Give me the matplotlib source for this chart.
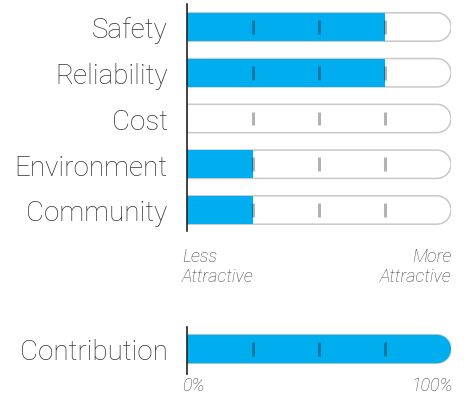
import numpy as np
import matplotlib
matplotlib.use("Agg")
import matplotlib.pyplot as plt
from matplotlib.path import Path
from matplotlib.patches import PathPatch

# Attribute scores (percent of the way from "Less" to "More Attractive")
categories = ["Safety", "Reliability", "Cost", "Environment", "Community"]
scores = [75, 75, 0, 25, 25]

# Overall contribution bar
contribution_label = "Contribution"
contribution_value = 100

grid_marks = [25, 50, 75]
scale_low = "Less\nAttractive"
scale_high = "More\nAttractive"
pct_low = "0%"
pct_high = "100%"

BLUE = "#00AEEF"
TRACK_EDGE = "#c8c8c8"
LABEL_COLOR = "#333333"
NOTE_COLOR = "#444444"
FONT = ["Roboto", "Liberation Sans", "DejaVu Sans"]

W, H = 466, 402
fig = plt.figure(figsize=(W / 100, H / 100), dpi=100)

ROW_PX = 45.75      # vertical pixels per row
BAR_H = 0.62        # bar height in row units
X0, X1 = 187, 451   # horizontal pixel span of the 0..100 scale


def pill(ax, y, end, h, round_end, px_per_x):
    """Bar from 0 to `end`, square on the left; optionally a semicircular right cap."""
    ry = h / 2
    rx = ry * ROW_PX / px_per_x
    if not round_end or end <= 0:
        verts = [(0, y - ry), (end, y - ry), (end, y + ry), (0, y + ry), (0, y - ry)]
    else:
        cx = end - rx
        t = np.linspace(-np.pi / 2, np.pi / 2, 40)
        arc = [(cx + rx * np.cos(a), y + ry * np.sin(a)) for a in t]
        verts = [(0, y - ry)] + arc + [(0, y + ry), (0, y - ry)]
    return Path(verts, closed=True)


def draw_rows(ax, values, rows):
    px_per_x = (X1 - X0) / 100
    for v, y in zip(values, rows):
        track = pill(ax, y, 100, BAR_H, True, px_per_x)
        ax.add_patch(PathPatch(track, facecolor="white", edgecolor=TRACK_EDGE,
                               lw=1.1, zorder=1))
        if v > 0:
            fill = pill(ax, y, v, BAR_H, v >= 100, px_per_x)
            ax.add_patch(PathPatch(fill, facecolor=BLUE, edgecolor="none", zorder=2))
        for m in grid_marks:
            ax.plot([m, m], [y - 0.15, y + 0.15], color="black", alpha=0.3,
                    lw=2.2, solid_capstyle="butt", zorder=3)


def style_axis(ax):
    ax.set_xlim(0, 100)
    for s in ["top", "right", "bottom"]:
        ax.spines[s].set_visible(False)
    ax.spines["left"].set_color("#222222")
    ax.spines["left"].set_linewidth(1.2)
    ax.spines["left"].set_zorder(5)
    ax.set_xticks([])
    ax.tick_params(axis="y", length=0, pad=14, labelsize=20, labelcolor=LABEL_COLOR)
    for lbl in ax.get_yticklabels():
        lbl.set_fontfamily(FONT)
        lbl.set_fontweight("light")


# Main attribute panel
top, bottom = 5, 232
ax = fig.add_axes([X0 / W, 1 - bottom / H, (X1 - X0) / W, (bottom - top) / H])
rows = np.arange(len(categories))
ax.set_ylim((bottom - 28) / ROW_PX, -(28 - top) / ROW_PX)
draw_rows(ax, scores, rows)
ax.set_yticks(rows)
ax.set_yticklabels(categories)
style_axis(ax)

# Contribution panel
ctop, cbottom, ccenter = 328, 375, 350
ax2 = fig.add_axes([X0 / W, 1 - cbottom / H, (X1 - X0) / W, (cbottom - ctop) / H])
ax2.set_ylim((cbottom - ccenter) / ROW_PX, -(ccenter - ctop) / ROW_PX)
draw_rows(ax2, [contribution_value], [0])
ax2.set_yticks([0])
ax2.set_yticklabels([contribution_label])
style_axis(ax2)

# Scale annotations
note = dict(fontsize=13, color=NOTE_COLOR, style="italic", family=FONT,
            weight="light", linespacing=1.15)
fig.text(182 / W, 1 - 248 / H, scale_low, ha="left", va="top", **note)
fig.text(451 / W, 1 - 248 / H, scale_high, ha="right", va="top", **note)
fig.text(182 / W, 1 - 386 / H, pct_low, ha="left", va="center", **note)
fig.text(453 / W, 1 - 386 / H, pct_high, ha="right", va="center", **note)

fig.savefig("out.png", dpi=100)
